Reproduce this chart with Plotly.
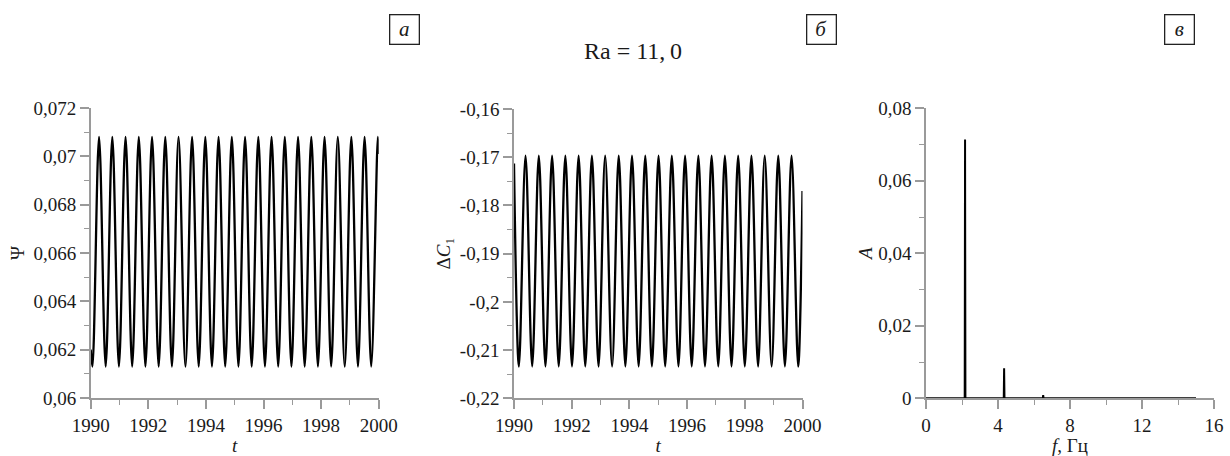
import plotly.graph_objects as go

# Stream function Psi(t): start point, then alternating troughs / peaks, then end point
psi_t = [1990.00,
         1990.06, 1990.29, 1990.52, 1990.75, 1990.98, 1991.21, 1991.44, 1991.67,
         1991.90, 1992.13, 1992.36, 1992.59, 1992.82, 1993.05, 1993.29, 1993.52,
         1993.75, 1993.98, 1994.21, 1994.44, 1994.67, 1994.90, 1995.13, 1995.36,
         1995.59, 1995.82, 1996.05, 1996.28, 1996.51, 1996.74, 1996.97, 1997.20,
         1997.43, 1997.66, 1997.89, 1998.12, 1998.35, 1998.58, 1998.82, 1999.05,
         1999.28, 1999.51, 1999.74, 1999.97,
         2000.00]
psi_val = [0.0620,
           0.0613, 0.0708, 0.0613, 0.0708, 0.0613, 0.0708, 0.0613, 0.0708,
           0.0613, 0.0708, 0.0613, 0.0708, 0.0613, 0.0708, 0.0613, 0.0708,
           0.0613, 0.0708, 0.0613, 0.0708, 0.0613, 0.0708, 0.0613, 0.0708,
           0.0613, 0.0708, 0.0613, 0.0708, 0.0613, 0.0708, 0.0613, 0.0708,
           0.0613, 0.0708, 0.0613, 0.0708, 0.0613, 0.0708, 0.0613, 0.0708,
           0.0613, 0.0708, 0.0613, 0.0708,
           0.0701]

# Concentration difference dC1(t): start point, alternating troughs / peaks, end point
dc_t = [1990.00,
        1990.17, 1990.40, 1990.63, 1990.86, 1991.09, 1991.32, 1991.55, 1991.78,
        1992.01, 1992.24, 1992.47, 1992.70, 1992.93, 1993.16, 1993.40, 1993.63,
        1993.86, 1994.09, 1994.32, 1994.55, 1994.78, 1995.01, 1995.24, 1995.47,
        1995.70, 1995.93, 1996.16, 1996.39, 1996.62, 1996.85, 1997.08, 1997.31,
        1997.54, 1997.77, 1998.00, 1998.23, 1998.46, 1998.69, 1998.93, 1999.16,
        1999.39, 1999.62, 1999.85,
        2000.00]
dc_val = [-0.1713,
          -0.2134, -0.1697, -0.2134, -0.1697, -0.2134, -0.1697, -0.2134, -0.1697,
          -0.2134, -0.1697, -0.2134, -0.1697, -0.2134, -0.1697, -0.2134, -0.1697,
          -0.2134, -0.1697, -0.2134, -0.1697, -0.2134, -0.1697, -0.2134, -0.1697,
          -0.2134, -0.1697, -0.2134, -0.1697, -0.2134, -0.1697, -0.2134, -0.1697,
          -0.2134, -0.1697, -0.2134, -0.1697, -0.2134, -0.1697, -0.2134, -0.1697,
          -0.2134, -0.1697, -0.2134,
          -0.1770]

# Amplitude spectrum A(f)
spec_f = [0.0, 2.15, 2.17, 2.19, 4.32, 4.34, 4.36, 6.49, 6.51, 6.53, 15.0]
spec_a = [0.0, 0.0, 0.0714, 0.0, 0.0, 0.0083, 0.0, 0.0, 0.0009, 0.0, 0.0]

# Tick positions and labels
t_ticks = [1990, 1992, 1994, 1996, 1998, 2000]
t_labels = ["1990", "1992", "1994", "1996", "1998", "2000"]
t_minor = [1991, 1993, 1995, 1997, 1999]
psi_ticks = [0.060, 0.062, 0.064, 0.066, 0.068, 0.070, 0.072]
psi_labels = ["0,06", "0,062", "0,064", "0,066", "0,068", "0,07", "0,072"]
psi_minor = [0.061, 0.063, 0.065, 0.067, 0.069, 0.071]
dc_ticks = [-0.22, -0.21, -0.20, -0.19, -0.18, -0.17, -0.16]
dc_labels = ["-0,22", "-0,21", "-0,2", "-0,19", "-0,18", "-0,17", "-0,16"]
dc_minor = [-0.215, -0.205, -0.195, -0.185, -0.175, -0.165]
f_ticks = [0, 4, 8, 12, 16]
f_labels = ["0", "4", "8", "12", "16"]
f_minor = [2, 6, 10, 14]
a_ticks = [0.0, 0.02, 0.04, 0.06, 0.08]
a_labels = ["0", "0,02", "0,04", "0,06", "0,08"]
a_minor = [0.01, 0.03, 0.05, 0.07]

SERIF = "Liberation Serif, Times New Roman, serif"
AXIS_GRAY = "#9a9a9a"
TEXT = "#1a1a1a"
W, H = 1230, 456

def px_x(a, b):
    return [a / W, b / W]

def px_y(top, bottom):
    return [1 - bottom / H, 1 - top / H]

def axis(domain, rng, ticks, labels, minor, title, standoff, anchor):
    return dict(
        domain=domain, range=rng, anchor=anchor, automargin=False,
        showline=True, linecolor=AXIS_GRAY, linewidth=1.5,
        showgrid=False, zeroline=False,
        ticks="outside", ticklen=9, tickwidth=1.5, tickcolor=AXIS_GRAY,
        tickvals=ticks, ticktext=labels,
        tickfont=dict(family=SERIF, size=19, color=TEXT),
        minor=dict(tickvals=minor, ticks="outside", ticklen=5,
                   tickwidth=1.3, tickcolor=AXIS_GRAY),
        title=dict(text=title, font=dict(family=SERIF, size=19, color=TEXT),
                   standoff=standoff),
    )

line_style = dict(color="#000000", width=2.3)

fig = go.Figure()
fig.add_trace(go.Scatter(x=psi_t, y=psi_val, mode="lines", line=dict(shape="spline", **line_style),
                         xaxis="x", yaxis="y"))
fig.add_trace(go.Scatter(x=dc_t, y=dc_val, mode="lines", line=dict(shape="spline", **line_style),
                         xaxis="x2", yaxis="y2"))
fig.add_trace(go.Scatter(x=spec_f, y=spec_a, mode="lines", line=dict(color="#000000", width=2),
                         xaxis="x3", yaxis="y3"))

fig.update_layout(
    width=W, height=H,
    margin=dict(l=0, r=0, t=0, b=0, autoexpand=False),
    paper_bgcolor="white", plot_bgcolor="white",
    showlegend=False,
    xaxis=axis(px_x(90.7, 378.7), [1990, 2000], t_ticks, t_labels, t_minor, "<i>t</i>", 4, "y"),
    yaxis=axis(px_y(108, 398), [0.060, 0.072], psi_ticks, psi_labels, psi_minor, "Ψ", 4, "x"),
    xaxis2=axis(px_x(514, 802.5), [1990, 2000], t_ticks, t_labels, t_minor, "<i>t</i>", 4, "y2"),
    yaxis2=axis(px_y(109, 398.3), [-0.22, -0.16], dc_ticks, dc_labels, dc_minor,
                "Δ<i>C</i><sub>1</sub>", 4, "x2"),
    xaxis3=axis(px_x(926, 1214), [0, 16], f_ticks, f_labels, f_minor, "<i>f</i>, Гц", 4, "y3"),
    yaxis3=axis(px_y(108.3, 398.3), [0, 0.08], a_ticks, a_labels, a_minor, "<i>A</i>", 1, "x3"),
)

# Panel letters in boxes and the Rayleigh number caption
for letter, cx in [("а", 404), ("б", 821), ("в", 1179)]:
    fig.add_annotation(
        x=cx / W, y=1 - 29 / H, xref="paper", yref="paper",
        text=f"<i>{letter}</i>", showarrow=False,
        font=dict(family=SERIF, size=21, color=TEXT),
        width=28, height=28, borderpad=0,
        bordercolor="#222222", borderwidth=1.3,
        xanchor="center", yanchor="middle",
    )

fig.add_annotation(
    x=633 / W, y=1 - 51 / H, xref="paper", yref="paper",
    text="Ra = 11,\u20090", showarrow=False,
    font=dict(family=SERIF, size=24, color=TEXT),
    xanchor="center", yanchor="middle",
)

fig.write_html("out.html")
